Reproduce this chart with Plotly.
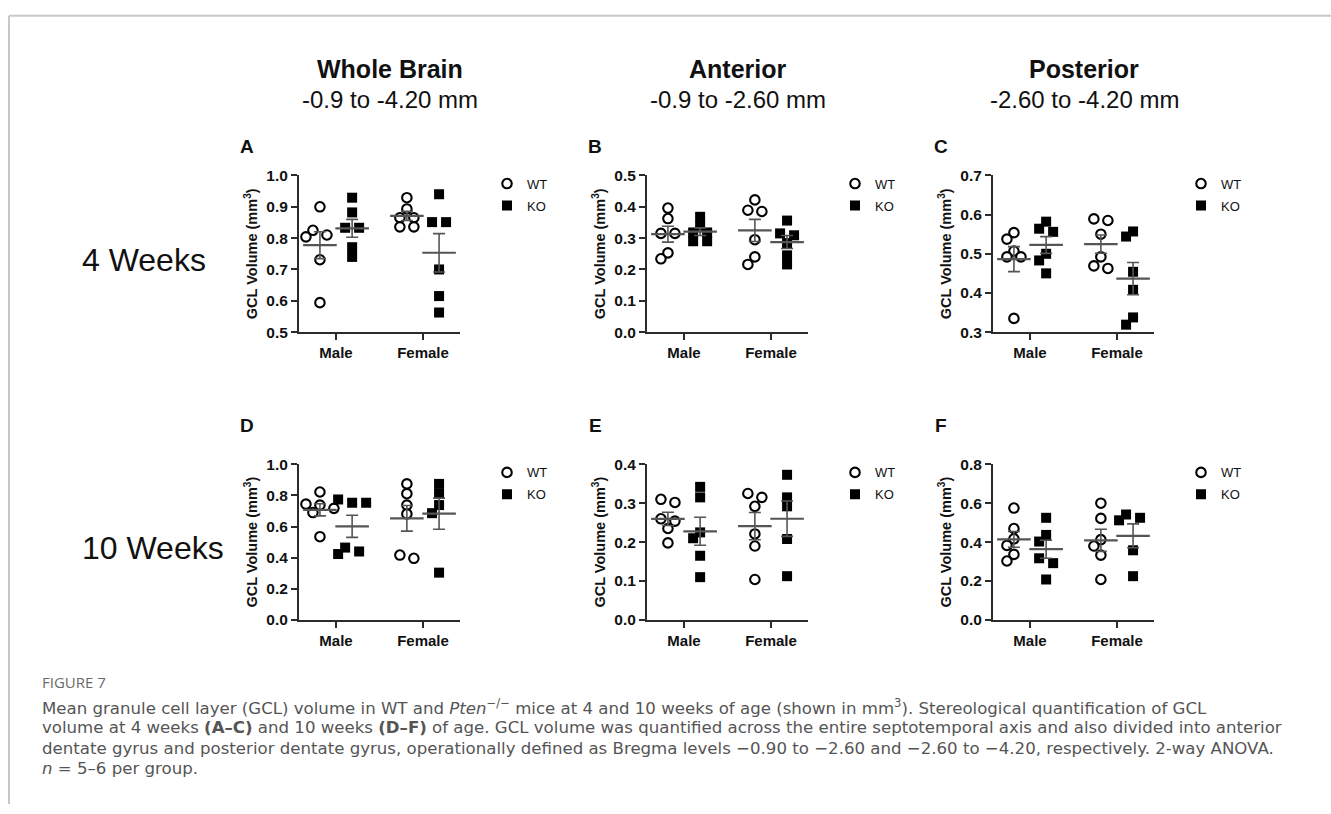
import numpy as np
import plotly.graph_objects as go

W, H = 1331, 814

# ---------------- data ----------------
categories = ["Male", "Female"]
genotypes = ["WT", "KO"]

# A: whole brain, 4 weeks
a_wt_male = [0.900, 0.825, 0.810, 0.804, 0.731, 0.594]
a_ko_male = [0.929, 0.882, 0.833, 0.833, 0.771, 0.740]
a_wt_female = [0.929, 0.893, 0.865, 0.865, 0.836, 0.836]
a_ko_female = [0.940, 0.851, 0.851, 0.700, 0.615, 0.5625]
# B: anterior, 4 weeks
b_wt_male = [0.396, 0.3625, 0.315, 0.315, 0.253, 0.234]
b_ko_male = [0.368, 0.339, 0.318, 0.318, 0.290, 0.290]
b_wt_female = [0.422, 0.389, 0.385, 0.295, 0.240, 0.216]
b_ko_female = [0.356, 0.315, 0.309, 0.284, 0.245, 0.216]
# C: posterior, 4 weeks
c_wt_male = [0.554, 0.5375, 0.507, 0.492, 0.492, 0.335]
c_ko_male = [0.582, 0.564, 0.556, 0.500, 0.483, 0.450]
c_wt_female = [0.585, 0.589, 0.550, 0.492, 0.4625, 0.469]
c_ko_female = [0.557, 0.544, 0.454, 0.408, 0.3375, 0.319]
# D: whole brain, 10 weeks
d_wt_male = [0.822, 0.744, 0.738, 0.717, 0.690, 0.535]
d_ko_male = [0.774, 0.753, 0.753, 0.465, 0.4235, 0.440]
d_wt_female = [0.874, 0.811, 0.738, 0.681, 0.396, 0.417]
d_ko_female = [0.874, 0.811, 0.738, 0.686, 0.304]
# E: anterior, 10 weeks
e_wt_male = [0.310, 0.302, 0.254, 0.260, 0.235, 0.198]
e_ko_male = [0.342, 0.315, 0.225, 0.210, 0.165, 0.110]
e_wt_female = [0.315, 0.325, 0.292, 0.221, 0.190, 0.104]
e_ko_female = [0.373, 0.315, 0.292, 0.208, 0.1125]
# F: posterior, 10 weeks
f_wt_male = [0.575, 0.470, 0.417, 0.383, 0.337, 0.303]
f_ko_male = [0.525, 0.437, 0.403, 0.317, 0.292, 0.208]
f_wt_female = [0.600, 0.522, 0.413, 0.380, 0.333, 0.208]
f_ko_female = [0.525, 0.542, 0.512, 0.358, 0.225]

y_min = [0.5, 0.0, 0.3, 0.0, 0.0, 0.0]
y_max = [1.0, 0.5, 0.7, 1.0, 0.4, 0.8]
y_step = [0.1, 0.1, 0.1, 0.2, 0.1, 0.2]

panel_letters = ["A", "B", "C", "D", "E", "F"]
region_titles = ["Whole Brain", "Anterior", "Posterior"]
region_ranges = ["-0.9 to -4.20 mm", "-0.9 to -2.60 mm", "-2.60 to -4.20 mm"]
age_labels = ["4 Weeks", "10 Weeks"]
y_title = "GCL Volume (mm<sup>3</sup>)"

panels = [
    [[a_wt_male, a_ko_male], [a_wt_female, a_ko_female]],
    [[b_wt_male, b_ko_male], [b_wt_female, b_ko_female]],
    [[c_wt_male, c_ko_male], [c_wt_female, c_ko_female]],
    [[d_wt_male, d_ko_male], [d_wt_female, d_ko_female]],
    [[e_wt_male, e_ko_male], [e_wt_female, e_ko_female]],
    [[f_wt_male, f_ko_male], [f_wt_female, f_ko_female]],
]

caption_head = "FIGURE 7"
caption_lines = [
    "Mean granule cell layer (GCL) volume in WT and <i>Pten</i><sup>−/−</sup> mice at 4 and 10 weeks of age (shown in mm<sup>3</sup>). Stereological quantification of GCL",
    "volume at 4 weeks <b>(A–C)</b> and 10 weeks <b>(D–F)</b> of age. GCL volume was quantified across the entire septotemporal axis and also divided into anterior",
    "dentate gyrus and posterior dentate gyrus, operationally defined as Bregma levels −0.90 to −2.60 and −2.60 to −4.20, respectively. 2-way ANOVA.",
    "<i>n</i> = 5–6 per group.",
]

# ---------------- layout geometry (pixels) ----------------
col_x = [(299, 460), (647, 808), (993, 1154)]
row_y = [(170, 330), (465, 624)]
X_RANGE = (0.0, 10.0)
cat_center = [2.3, 7.7]
geno_shift = [-1.0, 1.0]

ARIAL = "Liberation Sans, Arial, sans-serif"
HEADF = "Open Sans, Lato, sans-serif"
CAPF = "DejaVu Sans, Open Sans, sans-serif"
AXC = "#2b2b2b"
MEANC = "#555555"


def px_x(p):
    return p / W


def px_y(p):
    return 1 - p / H


def swarm_offsets(vals, px_per_unit, sep=14.0, row_thr=5.0, min_d=8.5):
    v = np.asarray(vals, float) * px_per_unit
    order = np.argsort(-v, kind="stable")
    rows = []
    for i in order:
        if rows and (v[rows[-1][0]] - v[i]) < row_thr:
            rows[-1].append(i)
        else:
            rows.append([i])
    off = np.zeros(len(v))
    placed = []
    for r in rows:
        n = len(r)
        xs = [(k - (n - 1) / 2) * sep for k in range(n)]
        if n == 1:
            for c in [0.0, -sep / 2, sep / 2, -sep, sep]:
                if all(np.hypot(c - px, v[r[0]] - py) >= min_d for px, py in placed):
                    xs = [c]
                    break
        for i, x in zip(r, xs):
            off[i] = x
            placed.append((x, v[i]))
    return off


fig = go.Figure()
annotations = []
layout_axes = {}
legends = {}

for p in range(6):
    row, col = divmod(p, 3)
    sfx = "" if p == 0 else str(p + 1)
    xa, ya = "x" + sfx, "y" + sfx
    lg = "legend" + sfx
    x0, x1 = col_x[col]
    yt, yb = row_y[row]
    ppu_y = (yb - yt) / (y_max[p] - y_min[p])
    ppu_x = (x1 - x0) / (X_RANGE[1] - X_RANGE[0])

    for ci in range(2):
        for gi in range(2):
            vals = panels[p][ci][gi]
            offs = swarm_offsets(vals, ppu_y) / ppu_x
            xc = cat_center[ci] + geno_shift[gi]
            wt = gi == 0
            fig.add_trace(go.Scatter(
                x=xc + offs, y=vals, xaxis=xa, yaxis=ya, mode="markers",
                name=genotypes[gi], legend=lg, legendgroup=genotypes[gi] + sfx,
                showlegend=(ci == 0), cliponaxis=False,
                marker=dict(symbol="circle" if wt else "square",
                            size=9.5 if wt else 10,
                            color="white" if wt else "black",
                            line=dict(color="black", width=2.1 if wt else 0)),
                hoverinfo="skip"))
            arr = np.asarray(vals, float)
            mean = arr.mean()
            sem = arr.std(ddof=1) / np.sqrt(len(arr))
            fig.add_trace(go.Scatter(
                x=[xc], y=[mean], xaxis=xa, yaxis=ya, mode="markers",
                showlegend=False, cliponaxis=False,
                marker=dict(symbol="line-ew", size=24,
                            line=dict(color=MEANC, width=2.2)),
                error_y=dict(type="data", array=[sem], width=6,
                             thickness=1.6, color=MEANC),
                hoverinfo="skip"))

    ticks = np.round(np.arange(y_min[p], y_max[p] + 1e-9, y_step[p]), 3)
    layout_axes["xaxis" + sfx] = dict(
        domain=[px_x(x0), px_x(x1)], range=list(X_RANGE), anchor=ya,
        showline=True, linecolor=AXC, linewidth=2, ticks="outside",
        ticklen=6, tickwidth=2, tickcolor=AXC, tickvals=cat_center,
        ticktext=categories, showgrid=False, zeroline=False, fixedrange=True,
        tickfont=dict(family=ARIAL, size=15, color="#111", weight="bold"))
    layout_axes["yaxis" + sfx] = dict(
        domain=[px_y(yb), px_y(yt)], range=[y_min[p], y_max[p]], anchor=xa,
        showline=True, linecolor=AXC, linewidth=2, ticks="outside",
        ticklen=6, tickwidth=2, tickcolor=AXC, tickvals=ticks,
        tickformat=".1f", showgrid=False, zeroline=False, fixedrange=True,
        tickfont=dict(family=ARIAL, size=15.5, color="#111", weight="bold"),
        title=dict(text=y_title, standoff=5,
                   font=dict(family=ARIAL, size=14.5, color="#111", weight="bold")))
    legends[lg] = dict(
        x=px_x(x1 + 27), y=px_y(yt - 7), xanchor="left", yanchor="top",
        bgcolor="rgba(0,0,0,0)", borderwidth=0, traceorder="grouped",
        tracegroupgap=2, itemclick=False, itemdoubleclick=False,
        font=dict(family=ARIAL, size=13, color="#111"))

    annotations.append(dict(
        text="<b>%s</b>" % panel_letters[p], x=px_x(x0 - 52),
        y=px_y(yt - (30 if row == 0 else 40)), xref="paper", yref="paper",
        showarrow=False, xanchor="center", yanchor="middle",
        font=dict(family=ARIAL, size=19, color="#111")))

for c in range(3):
    xc = (col_x[c][0] + 91)
    annotations.append(dict(
        text="<b>%s</b>" % region_titles[c], x=px_x(xc), y=px_y(61),
        xref="paper", yref="paper", showarrow=False, xanchor="center",
        yanchor="middle", font=dict(family=ARIAL, size=25, color="#111")))
    annotations.append(dict(
        text=region_ranges[c], x=px_x(xc), y=px_y(92),
        xref="paper", yref="paper", showarrow=False, xanchor="center",
        yanchor="middle", font=dict(family=ARIAL, size=24, color="#111")))

for r in range(2):
    annotations.append(dict(
        text=age_labels[r], x=px_x(80), y=px_y((row_y[r][0] + row_y[r][1]) / 2 + 6),
        xref="paper", yref="paper", showarrow=False, xanchor="left",
        yanchor="middle", font=dict(family=ARIAL, size=32, color="#111")))

annotations.append(dict(
    text=caption_head, x=px_x(40), y=px_y(687), xref="paper", yref="paper",
    showarrow=False, xanchor="left", yanchor="middle",
    font=dict(family=HEADF, size=15, color="#6b6b6b")))
for i, ln in enumerate(caption_lines):
    annotations.append(dict(
        text=ln, x=px_x(40), y=px_y(713 + 21 * i), xref="paper", yref="paper",
        showarrow=False, xanchor="left", yanchor="middle", align="left",
        font=dict(family=CAPF, size=16.6, color="#555555")))

shapes = [
    dict(type="line", xref="paper", yref="paper", x0=px_x(9), x1=1.0,
         y0=px_y(7), y1=px_y(7), line=dict(color="#c8c8c8", width=2)),
    dict(type="line", xref="paper", yref="paper", x0=px_x(9), x1=px_x(9),
         y0=px_y(7), y1=px_y(812), line=dict(color="#c8c8c8", width=2)),
]

fig.update_layout(
    width=W, height=H, margin=dict(l=0, r=0, t=0, b=0),
    paper_bgcolor="white", plot_bgcolor="white",
    annotations=annotations, shapes=shapes, **layout_axes, **legends)

fig.write_html("out.html")
